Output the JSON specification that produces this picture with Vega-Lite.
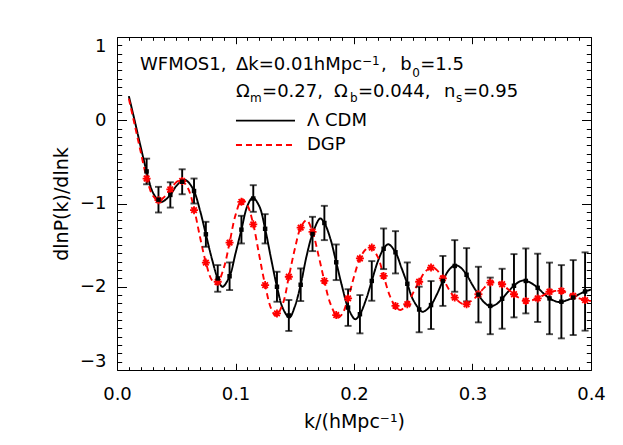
{
  "$schema": "https://vega.github.io/schema/vega-lite/v6.json",
  "width": 474,
  "height": 333,
  "autosize": "none",
  "padding": {"left": 117, "top": 37, "right": 32, "bottom": 75},
  "background": "white",
  "config": {
    "view": {"stroke": "black", "strokeWidth": 1},
    "scale": {"continuousPadding": 0},
    "font": "DejaVu Sans",
    "axis": {"grid": false, "domain": false, "tickColor": "black", "tickWidth": 1, "labelColor": "black", "titleColor": "black", "labelFont": "DejaVu Sans", "titleFont": "DejaVu Sans", "titleFontWeight": "normal", "labelFontSize": 18, "titleFontSize": 19, "labelOverlap": false, "labelBound": false}
  },
  "resolve": {"axis": {"x": "independent", "y": "independent"}},
  "datasets": {
    "curves": [
      {"model": "Λ CDM", "k": 0.010, "v": 0.29},
      {"model": "Λ CDM", "k": 0.015, "v": -0.01},
      {"model": "Λ CDM", "k": 0.020, "v": -0.32},
      {"model": "Λ CDM", "k": 0.025, "v": -0.615},
      {"model": "Λ CDM", "k": 0.030, "v": -0.86},
      {"model": "Λ CDM", "k": 0.035, "v": -0.965},
      {"model": "Λ CDM", "k": 0.037, "v": -0.985},
      {"model": "Λ CDM", "k": 0.040, "v": -0.965},
      {"model": "Λ CDM", "k": 0.045, "v": -0.897},
      {"model": "Λ CDM", "k": 0.050, "v": -0.79},
      {"model": "Λ CDM", "k": 0.055, "v": -0.725},
      {"model": "Λ CDM", "k": 0.057, "v": -0.715},
      {"model": "Λ CDM", "k": 0.060, "v": -0.74},
      {"model": "Λ CDM", "k": 0.065, "v": -0.85},
      {"model": "Λ CDM", "k": 0.070, "v": -1.08},
      {"model": "Λ CDM", "k": 0.075, "v": -1.37},
      {"model": "Λ CDM", "k": 0.080, "v": -1.66},
      {"model": "Λ CDM", "k": 0.085, "v": -1.90},
      {"model": "Λ CDM", "k": 0.089, "v": -2.0},
      {"model": "Λ CDM", "k": 0.095, "v": -1.874},
      {"model": "Λ CDM", "k": 0.100, "v": -1.60},
      {"model": "Λ CDM", "k": 0.105, "v": -1.314},
      {"model": "Λ CDM", "k": 0.110, "v": -1.03},
      {"model": "Λ CDM", "k": 0.1145, "v": -0.93},
      {"model": "Λ CDM", "k": 0.120, "v": -1.03},
      {"model": "Λ CDM", "k": 0.125, "v": -1.304},
      {"model": "Λ CDM", "k": 0.130, "v": -1.66},
      {"model": "Λ CDM", "k": 0.135, "v": -2.0},
      {"model": "Λ CDM", "k": 0.140, "v": -2.26},
      {"model": "Λ CDM", "k": 0.1455, "v": -2.37},
      {"model": "Λ CDM", "k": 0.150, "v": -2.24},
      {"model": "Λ CDM", "k": 0.155, "v": -1.976},
      {"model": "Λ CDM", "k": 0.160, "v": -1.63},
      {"model": "Λ CDM", "k": 0.165, "v": -1.366},
      {"model": "Λ CDM", "k": 0.1715, "v": -1.18},
      {"model": "Λ CDM", "k": 0.175, "v": -1.234},
      {"model": "Λ CDM", "k": 0.180, "v": -1.42},
      {"model": "Λ CDM", "k": 0.185, "v": -1.706},
      {"model": "Λ CDM", "k": 0.190, "v": -2.00},
      {"model": "Λ CDM", "k": 0.195, "v": -2.25},
      {"model": "Λ CDM", "k": 0.201, "v": -2.39},
      {"model": "Λ CDM", "k": 0.205, "v": -2.33},
      {"model": "Λ CDM", "k": 0.210, "v": -2.16},
      {"model": "Λ CDM", "k": 0.215, "v": -1.93},
      {"model": "Λ CDM", "k": 0.220, "v": -1.70},
      {"model": "Λ CDM", "k": 0.225, "v": -1.544},
      {"model": "Λ CDM", "k": 0.229, "v": -1.49},
      {"model": "Λ CDM", "k": 0.235, "v": -1.586},
      {"model": "Λ CDM", "k": 0.240, "v": -1.77},
      {"model": "Λ CDM", "k": 0.245, "v": -1.964},
      {"model": "Λ CDM", "k": 0.250, "v": -2.16},
      {"model": "Λ CDM", "k": 0.2575, "v": -2.30},
      {"model": "Λ CDM", "k": 0.260, "v": -2.29},
      {"model": "Λ CDM", "k": 0.265, "v": -2.22},
      {"model": "Λ CDM", "k": 0.270, "v": -2.09},
      {"model": "Λ CDM", "k": 0.275, "v": -1.93},
      {"model": "Λ CDM", "k": 0.280, "v": -1.80},
      {"model": "Λ CDM", "k": 0.2855, "v": -1.74},
      {"model": "Λ CDM", "k": 0.290, "v": -1.77},
      {"model": "Λ CDM", "k": 0.295, "v": -1.856},
      {"model": "Λ CDM", "k": 0.300, "v": -1.98},
      {"model": "Λ CDM", "k": 0.305, "v": -2.094},
      {"model": "Λ CDM", "k": 0.310, "v": -2.19},
      {"model": "Λ CDM", "k": 0.315, "v": -2.235},
      {"model": "Λ CDM", "k": 0.320, "v": -2.21},
      {"model": "Λ CDM", "k": 0.325, "v": -2.144},
      {"model": "Λ CDM", "k": 0.330, "v": -2.06},
      {"model": "Λ CDM", "k": 0.335, "v": -1.988},
      {"model": "Λ CDM", "k": 0.340, "v": -1.935},
      {"model": "Λ CDM", "k": 0.344, "v": -1.925},
      {"model": "Λ CDM", "k": 0.350, "v": -1.96},
      {"model": "Λ CDM", "k": 0.355, "v": -2.013},
      {"model": "Λ CDM", "k": 0.360, "v": -2.08},
      {"model": "Λ CDM", "k": 0.365, "v": -2.14},
      {"model": "Λ CDM", "k": 0.3735, "v": -2.185},
      {"model": "Λ CDM", "k": 0.380, "v": -2.16},
      {"model": "Λ CDM", "k": 0.385, "v": -2.13},
      {"model": "Λ CDM", "k": 0.390, "v": -2.09},
      {"model": "Λ CDM", "k": 0.395, "v": -2.057},
      {"model": "Λ CDM", "k": 0.400, "v": -2.035},
      {"model": "DGP", "k": 0.010, "v": 0.26},
      {"model": "DGP", "k": 0.015, "v": -0.06},
      {"model": "DGP", "k": 0.020, "v": -0.38},
      {"model": "DGP", "k": 0.025, "v": -0.69},
      {"model": "DGP", "k": 0.030, "v": -0.90},
      {"model": "DGP", "k": 0.035, "v": -0.965},
      {"model": "DGP", "k": 0.040, "v": -0.92},
      {"model": "DGP", "k": 0.045, "v": -0.83},
      {"model": "DGP", "k": 0.050, "v": -0.745},
      {"model": "DGP", "k": 0.054, "v": -0.715},
      {"model": "DGP", "k": 0.060, "v": -0.82},
      {"model": "DGP", "k": 0.065, "v": -1.06},
      {"model": "DGP", "k": 0.070, "v": -1.40},
      {"model": "DGP", "k": 0.075, "v": -1.71},
      {"model": "DGP", "k": 0.080, "v": -1.92},
      {"model": "DGP", "k": 0.084, "v": -1.97},
      {"model": "DGP", "k": 0.090, "v": -1.78},
      {"model": "DGP", "k": 0.095, "v": -1.47},
      {"model": "DGP", "k": 0.100, "v": -1.14},
      {"model": "DGP", "k": 0.1055, "v": -0.95},
      {"model": "DGP", "k": 0.110, "v": -1.02},
      {"model": "DGP", "k": 0.115, "v": -1.25},
      {"model": "DGP", "k": 0.120, "v": -1.62},
      {"model": "DGP", "k": 0.125, "v": -1.98},
      {"model": "DGP", "k": 0.130, "v": -2.26},
      {"model": "DGP", "k": 0.134, "v": -2.35},
      {"model": "DGP", "k": 0.140, "v": -2.20},
      {"model": "DGP", "k": 0.145, "v": -1.88},
      {"model": "DGP", "k": 0.150, "v": -1.55},
      {"model": "DGP", "k": 0.155, "v": -1.29},
      {"model": "DGP", "k": 0.160, "v": -1.20},
      {"model": "DGP", "k": 0.165, "v": -1.34},
      {"model": "DGP", "k": 0.170, "v": -1.62},
      {"model": "DGP", "k": 0.175, "v": -1.93},
      {"model": "DGP", "k": 0.180, "v": -2.20},
      {"model": "DGP", "k": 0.1865, "v": -2.37},
      {"model": "DGP", "k": 0.190, "v": -2.33},
      {"model": "DGP", "k": 0.195, "v": -2.14},
      {"model": "DGP", "k": 0.200, "v": -1.88},
      {"model": "DGP", "k": 0.205, "v": -1.66},
      {"model": "DGP", "k": 0.210, "v": -1.55},
      {"model": "DGP", "k": 0.2135, "v": -1.52},
      {"model": "DGP", "k": 0.220, "v": -1.64},
      {"model": "DGP", "k": 0.225, "v": -1.87},
      {"model": "DGP", "k": 0.230, "v": -2.10},
      {"model": "DGP", "k": 0.235, "v": -2.24},
      {"model": "DGP", "k": 0.239, "v": -2.28},
      {"model": "DGP", "k": 0.245, "v": -2.21},
      {"model": "DGP", "k": 0.250, "v": -2.07},
      {"model": "DGP", "k": 0.255, "v": -1.94},
      {"model": "DGP", "k": 0.260, "v": -1.82},
      {"model": "DGP", "k": 0.266, "v": -1.765},
      {"model": "DGP", "k": 0.270, "v": -1.80},
      {"model": "DGP", "k": 0.275, "v": -1.90},
      {"model": "DGP", "k": 0.280, "v": -2.03},
      {"model": "DGP", "k": 0.285, "v": -2.13},
      {"model": "DGP", "k": 0.2925, "v": -2.21},
      {"model": "DGP", "k": 0.300, "v": -2.16},
      {"model": "DGP", "k": 0.305, "v": -2.09},
      {"model": "DGP", "k": 0.310, "v": -2.01},
      {"model": "DGP", "k": 0.315, "v": -1.955},
      {"model": "DGP", "k": 0.319, "v": -1.94},
      {"model": "DGP", "k": 0.325, "v": -1.97},
      {"model": "DGP", "k": 0.330, "v": -2.03},
      {"model": "DGP", "k": 0.335, "v": -2.09},
      {"model": "DGP", "k": 0.340, "v": -2.14},
      {"model": "DGP", "k": 0.346, "v": -2.17},
      {"model": "DGP", "k": 0.355, "v": -2.14},
      {"model": "DGP", "k": 0.360, "v": -2.10},
      {"model": "DGP", "k": 0.365, "v": -2.065},
      {"model": "DGP", "k": 0.370, "v": -2.05},
      {"model": "DGP", "k": 0.375, "v": -2.05},
      {"model": "DGP", "k": 0.380, "v": -2.075},
      {"model": "DGP", "k": 0.385, "v": -2.11},
      {"model": "DGP", "k": 0.390, "v": -2.14},
      {"model": "DGP", "k": 0.395, "v": -2.16},
      {"model": "DGP", "k": 0.400, "v": -2.17}
    ],
    "keylines": [
      {"model": "Λ CDM", "k": 0.1004, "y": -0.005},
      {"model": "Λ CDM", "k": 0.1502, "y": -0.005},
      {"model": "DGP", "k": 0.1004, "y": -0.297},
      {"model": "DGP", "k": 0.1502, "y": -0.297}
    ],
    "keylabels": [
      {"t": "Λ CDM", "k": 0.1603, "y": -0.005},
      {"t": "DGP", "k": 0.1603, "y": -0.297}
    ],
    "obs": [
      {"k": 0.025, "v": -0.615, "e": 0.154},
      {"k": 0.035, "v": -0.954, "e": 0.154},
      {"k": 0.045, "v": -0.897, "e": 0.152},
      {"k": 0.055, "v": -0.739, "e": 0.150},
      {"k": 0.065, "v": -0.850, "e": 0.150},
      {"k": 0.075, "v": -1.370, "e": 0.150},
      {"k": 0.085, "v": -1.900, "e": 0.160},
      {"k": 0.095, "v": -1.874, "e": 0.166},
      {"k": 0.105, "v": -1.314, "e": 0.166},
      {"k": 0.115, "v": -0.940, "e": 0.160},
      {"k": 0.125, "v": -1.304, "e": 0.176},
      {"k": 0.135, "v": -2.000, "e": 0.180},
      {"k": 0.145, "v": -2.345, "e": 0.186},
      {"k": 0.155, "v": -1.976, "e": 0.196},
      {"k": 0.165, "v": -1.366, "e": 0.206},
      {"k": 0.175, "v": -1.234, "e": 0.206},
      {"k": 0.185, "v": -1.706, "e": 0.214},
      {"k": 0.195, "v": -2.250, "e": 0.220},
      {"k": 0.205, "v": -2.330, "e": 0.230},
      {"k": 0.215, "v": -1.930, "e": 0.238},
      {"k": 0.225, "v": -1.544, "e": 0.244},
      {"k": 0.235, "v": -1.586, "e": 0.254},
      {"k": 0.245, "v": -1.964, "e": 0.256},
      {"k": 0.255, "v": -2.273, "e": 0.274},
      {"k": 0.265, "v": -2.220, "e": 0.288},
      {"k": 0.275, "v": -1.930, "e": 0.300},
      {"k": 0.285, "v": -1.750, "e": 0.310},
      {"k": 0.295, "v": -1.856, "e": 0.320},
      {"k": 0.305, "v": -2.094, "e": 0.334},
      {"k": 0.315, "v": -2.230, "e": 0.340},
      {"k": 0.325, "v": -2.144, "e": 0.360},
      {"k": 0.335, "v": -1.988, "e": 0.380},
      {"k": 0.345, "v": -1.930, "e": 0.390},
      {"k": 0.355, "v": -2.013, "e": 0.410},
      {"k": 0.365, "v": -2.140, "e": 0.430},
      {"k": 0.375, "v": -2.180, "e": 0.440},
      {"k": 0.385, "v": -2.130, "e": 0.450},
      {"k": 0.395, "v": -2.057, "e": 0.470}
    ],
    "dgpbins": [
      {"k": 0.025, "v": -0.70}, {"k": 0.035, "v": -0.96}, {"k": 0.045, "v": -0.83}, {"k": 0.055, "v": -0.73},
      {"k": 0.065, "v": -1.08}, {"k": 0.075, "v": -1.71}, {"k": 0.085, "v": -1.94}, {"k": 0.095, "v": -1.47},
      {"k": 0.105, "v": -0.98}, {"k": 0.115, "v": -1.25}, {"k": 0.125, "v": -1.98}, {"k": 0.135, "v": -2.32},
      {"k": 0.145, "v": -1.88}, {"k": 0.155, "v": -1.29}, {"k": 0.165, "v": -1.34}, {"k": 0.175, "v": -1.93},
      {"k": 0.185, "v": -2.34}, {"k": 0.195, "v": -2.14}, {"k": 0.205, "v": -1.66}, {"k": 0.215, "v": -1.53},
      {"k": 0.225, "v": -1.87}, {"k": 0.235, "v": -2.23}, {"k": 0.245, "v": -2.21}, {"k": 0.255, "v": -1.94},
      {"k": 0.265, "v": -1.77}, {"k": 0.275, "v": -1.90}, {"k": 0.285, "v": -2.13}, {"k": 0.295, "v": -2.21},
      {"k": 0.305, "v": -2.09}, {"k": 0.315, "v": -1.95}, {"k": 0.325, "v": -1.97}, {"k": 0.335, "v": -2.09},
      {"k": 0.345, "v": -2.17}, {"k": 0.355, "v": -2.14}, {"k": 0.365, "v": -2.06}, {"k": 0.375, "v": -2.05},
      {"k": 0.385, "v": -2.11}, {"k": 0.395, "v": -2.16}
    ],
    "notes": [
      {"t": "WFMOS1,", "k": 0.0194, "y": 0.604, "role": "main"},
      {"t": "Δk=0.01hMpc", "k": 0.1004, "y": 0.604, "role": "main"},
      {"t": "−1", "k": 0.2068, "y": 0.664, "role": "small"},
      {"t": ",", "k": 0.2228, "y": 0.604, "role": "main"},
      {"t": "b", "k": 0.2390, "y": 0.604, "role": "main"},
      {"t": "0", "k": 0.2491, "y": 0.523, "role": "small"},
      {"t": "=1.5", "k": 0.2559, "y": 0.604, "role": "main"},
      {"t": "Ω", "k": 0.1004, "y": 0.283, "role": "main"},
      {"t": "m", "k": 0.1122, "y": 0.219, "role": "small"},
      {"t": "=0.27,", "k": 0.1224, "y": 0.283, "role": "main"},
      {"t": "Ω", "k": 0.1831, "y": 0.283, "role": "main"},
      {"t": "b", "k": 0.1966, "y": 0.219, "role": "small"},
      {"t": "=0.044,", "k": 0.2034, "y": 0.283, "role": "main"},
      {"t": "n", "k": 0.2759, "y": 0.283, "role": "main"},
      {"t": "s", "k": 0.2861, "y": 0.219, "role": "small"},
      {"t": "=0.95", "k": 0.2920, "y": 0.283, "role": "main"}
    ]
  },
  "layer": [
    {
      "data": {"name": "curves"},
      "mark": {"type": "line", "strokeWidth": 1.9, "interpolate": "catmull-rom"},
      "encoding": {
        "x": {"field": "k", "type": "quantitative", "scale": {"domain": [0, 0.4], "nice": false, "zero": false},
          "axis": {"orient": "bottom", "title": "k/(hMpc⁻¹)", "titlePadding": 6, "labelFlush": false,
            "values": [0,0.01,0.02,0.03,0.04,0.05,0.06,0.07,0.08,0.09,0.1,0.11,0.12,0.13,0.14,0.15,0.16,0.17,0.18,0.19,0.2,0.21,0.22,0.23,0.24,0.25,0.26,0.27,0.28,0.29,0.3,0.31,0.32,0.33,0.34,0.35,0.36,0.37,0.38,0.39,0.4],
            "labelExpr": "abs(datum.value*10-round(datum.value*10))<1e-6 ? format(datum.value,'.1f') : ''",
            "tickSize": {"condition": {"test": "abs(datum.value*10-round(datum.value*10))<1e-6", "value": -6.7}, "value": -3.3},
            "labelPadding": 22}},
        "y": {"field": "v", "type": "quantitative", "scale": {"domain": [-3, 1], "nice": false, "zero": false},
          "axis": {"orient": "left", "title": "dlnP(k)/dlnk", "titlePadding": 8, "labelFlush": true,
            "values": [-3,-2.9,-2.8,-2.7,-2.6,-2.5,-2.4,-2.3,-2.2,-2.1,-2,-1.9,-1.8,-1.7,-1.6,-1.5,-1.4,-1.3,-1.2,-1.1,-1,-0.9,-0.8,-0.7,-0.6,-0.5,-0.4,-0.3,-0.2,-0.1,0,0.1,0.2,0.3,0.4,0.5,0.6,0.7,0.8,0.9,1],
            "labelExpr": "abs(datum.value-round(datum.value))<1e-6 ? format(datum.value,'d') : ''",
            "tickSize": {"condition": {"test": "abs(datum.value-round(datum.value))<1e-6", "value": -9.5}, "value": -4.7},
            "labelPadding": 20.5}},
        "color": {"field": "model", "type": "nominal", "scale": {"domain": ["Λ CDM", "DGP"], "range": ["black", "red"]}, "legend": null},
        "strokeDash": {"field": "model", "type": "nominal", "scale": {"domain": ["Λ CDM", "DGP"], "range": [[1, 0], [6, 4]]}, "legend": null}
      }
    },
    {
      "data": {"name": "keylines"},
      "mark": {"type": "line", "strokeWidth": 1.9},
      "encoding": {
        "x": {"field": "k", "type": "quantitative", "scale": {"domain": [0, 0.4], "nice": false, "zero": false}, "axis": null},
        "y": {"field": "y", "type": "quantitative", "scale": {"domain": [-3, 1], "nice": false, "zero": false}, "axis": null},
        "color": {"field": "model", "type": "nominal", "scale": {"domain": ["Λ CDM", "DGP"], "range": ["black", "red"]}, "legend": null},
        "strokeDash": {"field": "model", "type": "nominal", "scale": {"domain": ["Λ CDM", "DGP"], "range": [[1, 0], [6, 4]]}, "legend": null}
      }
    },
    {
      "data": {"name": "keylabels"},
      "mark": {"type": "text", "align": "left", "baseline": "middle", "fontSize": 18, "font": "DejaVu Sans", "color": "black"},
      "encoding": {
        "x": {"field": "k", "type": "quantitative", "scale": {"domain": [0, 0.4], "nice": false, "zero": false}, "axis": null},
        "y": {"field": "y", "type": "quantitative", "scale": {"domain": [-3, 1], "nice": false, "zero": false}, "axis": null},
        "text": {"field": "t"}
      }
    },
    {
      "data": {"name": "obs"},
      "mark": {"type": "errorbar", "ticks": {"size": 7}, "thickness": 1.9, "color": "black"},
      "encoding": {
        "x": {"field": "k", "type": "quantitative", "scale": {"domain": [0, 0.4], "nice": false, "zero": false}, "axis": null},
        "y": {"field": "v", "type": "quantitative", "scale": {"domain": [-3, 1], "nice": false, "zero": false}, "axis": null},
        "yError": {"field": "e"}
      }
    },
    {
      "data": {"name": "dgpbins"},
      "mark": {"type": "point", "shape": "M-1,0L1,0M0,-1L0,1M-0.7,-0.7L0.7,0.7M-0.7,0.7L0.7,-0.7", "filled": false, "color": "red", "strokeWidth": 1.8, "size": 64, "opacity": 1},
      "encoding": {
        "x": {"field": "k", "type": "quantitative", "scale": {"domain": [0, 0.4], "nice": false, "zero": false}, "axis": null},
        "y": {"field": "v", "type": "quantitative", "scale": {"domain": [-3, 1], "nice": false, "zero": false}, "axis": null}
      }
    },
    {
      "data": {"name": "obs"},
      "mark": {"type": "point", "shape": "square", "filled": true, "color": "black", "size": 20, "opacity": 1},
      "encoding": {
        "x": {"field": "k", "type": "quantitative", "scale": {"domain": [0, 0.4], "nice": false, "zero": false},
          "axis": {"orient": "top", "labels": false, "title": null,
            "values": [0,0.01,0.02,0.03,0.04,0.05,0.06,0.07,0.08,0.09,0.1,0.11,0.12,0.13,0.14,0.15,0.16,0.17,0.18,0.19,0.2,0.21,0.22,0.23,0.24,0.25,0.26,0.27,0.28,0.29,0.3,0.31,0.32,0.33,0.34,0.35,0.36,0.37,0.38,0.39,0.4],
            "tickSize": {"condition": {"test": "abs(datum.value*10-round(datum.value*10))<1e-6", "value": -6.7}, "value": -3.3}}},
        "y": {"field": "v", "type": "quantitative", "scale": {"domain": [-3, 1], "nice": false, "zero": false},
          "axis": {"orient": "right", "labels": false, "title": null,
            "values": [-3,-2.9,-2.8,-2.7,-2.6,-2.5,-2.4,-2.3,-2.2,-2.1,-2,-1.9,-1.8,-1.7,-1.6,-1.5,-1.4,-1.3,-1.2,-1.1,-1,-0.9,-0.8,-0.7,-0.6,-0.5,-0.4,-0.3,-0.2,-0.1,0,0.1,0.2,0.3,0.4,0.5,0.6,0.7,0.8,0.9,1],
            "tickSize": {"condition": {"test": "abs(datum.value-round(datum.value))<1e-6", "value": -9.5}, "value": -4.7}}}
      }
    },
    {
      "data": {"name": "notes"},
      "transform": [{"filter": "datum.role === 'main'"}],
      "mark": {"type": "text", "align": "left", "baseline": "alphabetic", "fontSize": 18, "font": "DejaVu Sans", "color": "black"},
      "encoding": {
        "x": {"field": "k", "type": "quantitative", "scale": {"domain": [0, 0.4], "nice": false, "zero": false}, "axis": null},
        "y": {"field": "y", "type": "quantitative", "scale": {"domain": [-3, 1], "nice": false, "zero": false}, "axis": null},
        "text": {"field": "t"}
      }
    },
    {
      "data": {"name": "notes"},
      "transform": [{"filter": "datum.role === 'small'"}],
      "mark": {"type": "text", "align": "left", "baseline": "alphabetic", "fontSize": 12, "font": "DejaVu Sans", "color": "black"},
      "encoding": {
        "x": {"field": "k", "type": "quantitative", "scale": {"domain": [0, 0.4], "nice": false, "zero": false}, "axis": null},
        "y": {"field": "y", "type": "quantitative", "scale": {"domain": [-3, 1], "nice": false, "zero": false}, "axis": null},
        "text": {"field": "t"}
      }
    }
  ]
}
